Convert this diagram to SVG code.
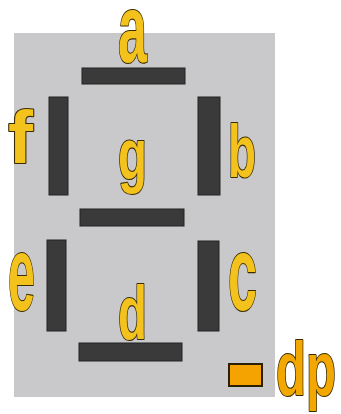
<svg xmlns="http://www.w3.org/2000/svg" width="341" height="414" viewBox="0 0 341 414">
<style>
.bg{fill:#c9c9cb}
.seg{fill:#3a3a3a;stroke:#222;stroke-width:1}
.dp{fill:#f5a300;stroke:#2a2000;stroke-width:2}
.lbl{font-family:"Liberation Sans",Arial,sans-serif;font-weight:bold;fill:#f4c21c;stroke:#3a2c00;stroke-width:2.2;paint-order:stroke;stroke-linejoin:round}
.or{fill:#f2a800}
</style>
<rect width="341" height="414" fill="#ffffff"/>
<rect class="bg" x="14" y="33" width="261" height="364"/>
<g id="seg-a"><rect class="seg" x="82" y="68" width="103" height="16"/><text class="lbl" x="118" y="62" font-size="96" textLength="29" lengthAdjust="spacingAndGlyphs">a</text></g>
<g id="seg-b"><rect class="seg" x="198" y="97" width="22" height="98"/><text class="lbl" x="228" y="177" font-size="74" textLength="28" lengthAdjust="spacingAndGlyphs">b</text></g>
<g id="seg-c"><rect class="seg" x="198" y="241" width="21" height="90"/><text class="lbl" x="228" y="310" font-size="106" textLength="29" lengthAdjust="spacingAndGlyphs">c</text></g>
<g id="seg-d"><rect class="seg" x="79" y="343" width="103" height="18"/><text class="lbl" x="118" y="339" font-size="76" textLength="29" lengthAdjust="spacingAndGlyphs">d</text></g>
<g id="seg-e"><rect class="seg" x="47" y="240" width="19" height="91"/><text class="lbl" x="8" y="310" font-size="106" textLength="27" lengthAdjust="spacingAndGlyphs">e</text></g>
<g id="seg-f"><rect class="seg" x="49" y="97" width="19" height="98"/><text class="lbl" x="8" y="163" font-size="75" textLength="25" lengthAdjust="spacingAndGlyphs">f</text></g>
<g id="seg-g"><rect class="seg" x="80" y="209" width="104" height="17"/><text class="lbl" x="118" y="179" font-size="73" textLength="29" lengthAdjust="spacingAndGlyphs">g</text></g>
<g id="seg-dp"><rect class="dp" x="229" y="364" width="33" height="22"/><text class="lbl or" x="276" y="395" font-size="76" textLength="60" lengthAdjust="spacingAndGlyphs">dp</text></g>
<g id="connectors"/>
</svg>
